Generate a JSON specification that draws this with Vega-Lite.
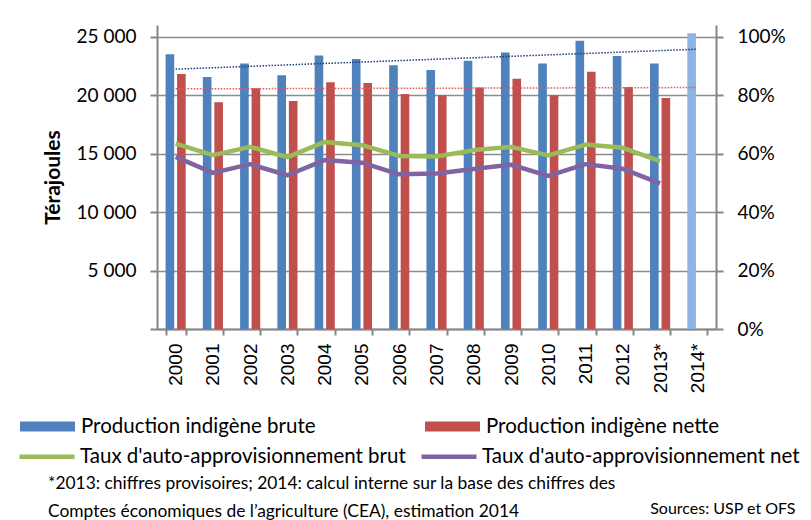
{
  "$schema": "https://vega.github.io/schema/vega-lite/v6.json",
  "width": 559,
  "height": 304,
  "autosize": {"type": "none"},
  "padding": {"left": 157, "top": 25, "right": 95, "bottom": 191},
  "background": "white",
  "config": {
    "view": {"stroke": null},
    "font": "Lato",
    "axis": {"labelColor": "black", "titleColor": "black"},
    "legend": {"padding": 0, "titlePadding": 0}
  },
  "datasets": {
    "bars": [
      {"year": "2000", "series": "Production indigène brute", "value": 23500},
      {"year": "2000", "series": "Production indigène nette", "value": 21800},
      {"year": "2001", "series": "Production indigène brute", "value": 21550},
      {"year": "2001", "series": "Production indigène nette", "value": 19400},
      {"year": "2002", "series": "Production indigène brute", "value": 22700},
      {"year": "2002", "series": "Production indigène nette", "value": 20600},
      {"year": "2003", "series": "Production indigène brute", "value": 21700},
      {"year": "2003", "series": "Production indigène nette", "value": 19500},
      {"year": "2004", "series": "Production indigène brute", "value": 23400},
      {"year": "2004", "series": "Production indigène nette", "value": 21100},
      {"year": "2005", "series": "Production indigène brute", "value": 23100},
      {"year": "2005", "series": "Production indigène nette", "value": 21050},
      {"year": "2006", "series": "Production indigène brute", "value": 22550},
      {"year": "2006", "series": "Production indigène nette", "value": 20100},
      {"year": "2007", "series": "Production indigène brute", "value": 22150},
      {"year": "2007", "series": "Production indigène nette", "value": 20000},
      {"year": "2008", "series": "Production indigène brute", "value": 22950},
      {"year": "2008", "series": "Production indigène nette", "value": 20650},
      {"year": "2009", "series": "Production indigène brute", "value": 23650},
      {"year": "2009", "series": "Production indigène nette", "value": 21400},
      {"year": "2010", "series": "Production indigène brute", "value": 22700},
      {"year": "2010", "series": "Production indigène nette", "value": 20000},
      {"year": "2011", "series": "Production indigène brute", "value": 24650},
      {"year": "2011", "series": "Production indigène nette", "value": 22000},
      {"year": "2012", "series": "Production indigène brute", "value": 23350},
      {"year": "2012", "series": "Production indigène nette", "value": 20700},
      {"year": "2013*", "series": "Production indigène brute", "value": 22700},
      {"year": "2013*", "series": "Production indigène nette", "value": 19750},
      {"year": "2014*", "series": "Production indigène brute", "value": 25300}
    ],
    "trends": [
      {"year": "2000", "series": "brute", "value": 22222},
      {"year": "2014*", "series": "brute", "value": 23932},
      {"year": "2000", "series": "nette", "value": 20538},
      {"year": "2014*", "series": "nette", "value": 20650}
    ],
    "rates": [
      {"year": "2000", "series": "Taux d'auto-approvisionnement brut", "rate": 0.634},
      {"year": "2001", "series": "Taux d'auto-approvisionnement brut", "rate": 0.595},
      {"year": "2002", "series": "Taux d'auto-approvisionnement brut", "rate": 0.623},
      {"year": "2003", "series": "Taux d'auto-approvisionnement brut", "rate": 0.588},
      {"year": "2004", "series": "Taux d'auto-approvisionnement brut", "rate": 0.640},
      {"year": "2005", "series": "Taux d'auto-approvisionnement brut", "rate": 0.629},
      {"year": "2006", "series": "Taux d'auto-approvisionnement brut", "rate": 0.592},
      {"year": "2007", "series": "Taux d'auto-approvisionnement brut", "rate": 0.590},
      {"year": "2008", "series": "Taux d'auto-approvisionnement brut", "rate": 0.612},
      {"year": "2009", "series": "Taux d'auto-approvisionnement brut", "rate": 0.623},
      {"year": "2010", "series": "Taux d'auto-approvisionnement brut", "rate": 0.594},
      {"year": "2011", "series": "Taux d'auto-approvisionnement brut", "rate": 0.631},
      {"year": "2012", "series": "Taux d'auto-approvisionnement brut", "rate": 0.620},
      {"year": "2013*", "series": "Taux d'auto-approvisionnement brut", "rate": 0.574},
      {"year": "2000", "series": "Taux d'auto-approvisionnement net", "rate": 0.589},
      {"year": "2001", "series": "Taux d'auto-approvisionnement net", "rate": 0.534},
      {"year": "2002", "series": "Taux d'auto-approvisionnement net", "rate": 0.564},
      {"year": "2003", "series": "Taux d'auto-approvisionnement net", "rate": 0.526},
      {"year": "2004", "series": "Taux d'auto-approvisionnement net", "rate": 0.578},
      {"year": "2005", "series": "Taux d'auto-approvisionnement net", "rate": 0.569},
      {"year": "2006", "series": "Taux d'auto-approvisionnement net", "rate": 0.529},
      {"year": "2007", "series": "Taux d'auto-approvisionnement net", "rate": 0.532},
      {"year": "2008", "series": "Taux d'auto-approvisionnement net", "rate": 0.547},
      {"year": "2009", "series": "Taux d'auto-approvisionnement net", "rate": 0.562},
      {"year": "2010", "series": "Taux d'auto-approvisionnement net", "rate": 0.524},
      {"year": "2011", "series": "Taux d'auto-approvisionnement net", "rate": 0.564},
      {"year": "2012", "series": "Taux d'auto-approvisionnement net", "rate": 0.548},
      {"year": "2013*", "series": "Taux d'auto-approvisionnement net", "rate": 0.498}
    ]
  },
  "title": {
    "text": ["*2013: chiffres provisoires; 2014: calcul interne sur la base des chiffres des", "Comptes économiques de l’agriculture (CEA), estimation 2014"],
    "orient": "bottom",
    "anchor": "start",
    "frame": "group",
    "dx": -109,
    "offset": -41,
    "font": "Lato",
    "fontSize": 17.4,
    "fontWeight": "normal",
    "lineHeight": 28,
    "color": "black"
  },
  "layer": [
    {
      "layer": [
        {
          "data": {"name": "bars"},
          "mark": {"type": "bar"},
          "encoding": {
            "x": {
              "field": "year", "type": "nominal", "sort": null,
              "scale": {"domain": ["2000","2001","2002","2003","2004","2005","2006","2007","2008","2009","2010","2011","2012","2013*","2014*"], "paddingInner": 0.46, "paddingOuter": 0.23},
              "axis": {
                "title": "Sources: USP et OFS",
                "titleX": 638, "titleY": 179, "titleAlign": "right", "titleBaseline": "middle", "titleAngle": 0,
                "titleFont": "Lato", "titleFontSize": 16, "titleFontWeight": "normal",
                "labelAngle": -90, "labelAlign": "right", "labelBaseline": "middle",
                "labelFont": "Liberation Sans", "labelFontSize": 19, "labelPadding": 8,
                "tickBand": "extent", "tickSize": 6, "tickColor": "#868686", "tickWidth": 2,
                "domainColor": "#868686", "domainWidth": 2, "grid": false
              }
            },
            "xOffset": {
              "field": "series", "type": "nominal",
              "scale": {"domain": ["Production indigène brute", "Production indigène nette"], "paddingInner": 0.25, "paddingOuter": 0}
            },
            "y": {
              "field": "value", "type": "quantitative",
              "scale": {"domain": [0, 26000], "nice": false},
              "axis": {
                "title": "Térajoules", "titleFont": "Lato", "titleFontSize": 21, "titleFontWeight": "bold", "titlePadding": 13,
                "values": [0, 5000, 10000, 15000, 20000, 25000],
                "labelExpr": "datum.value == 0 ? '' : replace(format(datum.value, ','), ',', ' ')",
                "labelFont": "Lato", "labelFontSize": 19, "labelPadding": 14,
                "tickSize": 7, "tickColor": "#868686", "tickWidth": 2,
                "domainColor": "#868686", "domainWidth": 2,
                "grid": true, "gridColor": "#8c8c8c", "gridWidth": 1.5
              }
            },
            "fill": {
              "condition": {"test": "datum.year === '2014*'", "value": "#8DB4E2"},
              "field": "series", "type": "nominal",
              "scale": {"domain": ["Production indigène brute", "Production indigène nette"], "range": ["#4F81BD", "#C0504D"]},
              "legend": {
                "orient": "none", "legendX": -137, "legendY": 374,
                "direction": "horizontal", "columns": 2, "title": null,
                "symbolType": "M-1,-0.18H1V0.18H-1Z", "symbolSize": 3025, "symbolStrokeWidth": 0,
                "labelFont": "Lato", "labelFontSize": 20.5, "labelColor": "black", "labelLimit": 600,
                "labelOffset": 6, "columnPadding": 109
              }
            }
          }
        },
        {
          "data": {"name": "trends"},
          "transform": [{"filter": "datum.series === 'brute'"}],
          "mark": {"type": "line", "stroke": "#1F3D7A", "strokeWidth": 1.5, "strokeDash": [1.5, 1.5]},
          "encoding": {
            "x": {"field": "year", "type": "nominal", "sort": null},
            "y": {"field": "value", "type": "quantitative"}
          }
        },
        {
          "data": {"name": "trends"},
          "transform": [{"filter": "datum.series === 'nette'"}],
          "mark": {"type": "line", "stroke": "#E05A5A", "strokeWidth": 1.5, "strokeDash": [1.5, 1.5]},
          "encoding": {
            "x": {"field": "year", "type": "nominal", "sort": null},
            "y": {"field": "value", "type": "quantitative"}
          }
        }
      ]
    },
    {
      "data": {"name": "rates"},
      "mark": {"type": "line", "strokeWidth": 4.5, "strokeJoin": "round"},
      "encoding": {
        "x": {"field": "year", "type": "nominal", "sort": null},
        "y": {
          "field": "rate", "type": "quantitative",
          "scale": {"domain": [0, 1.04], "nice": false},
          "axis": {
            "orient": "right", "title": null,
            "values": [0, 0.2, 0.4, 0.6, 0.8, 1], "format": ".0%",
            "labelFont": "Lato", "labelFontSize": 19, "labelPadding": 14,
            "tickSize": 7, "tickColor": "#868686", "tickWidth": 2,
            "domainColor": "#868686", "domainWidth": 2, "grid": false
          }
        },
        "stroke": {
          "field": "series", "type": "nominal",
          "scale": {"domain": ["Taux d'auto-approvisionnement brut", "Taux d'auto-approvisionnement net"], "range": ["#9BBB59", "#8064A2"]},
          "legend": {
            "orient": "none", "legendX": -140, "legendY": 401.5,
            "direction": "horizontal", "columns": 2, "title": null,
            "symbolType": "stroke", "symbolSize": 3025, "symbolStrokeWidth": 4.5,
            "labelFont": "Lato", "labelFontSize": 20.5, "labelColor": "black", "labelLimit": 600,
            "labelOffset": 3, "columnPadding": 6
          }
        }
      }
    }
  ],
  "resolve": {"scale": {"y": "independent"}}
}
